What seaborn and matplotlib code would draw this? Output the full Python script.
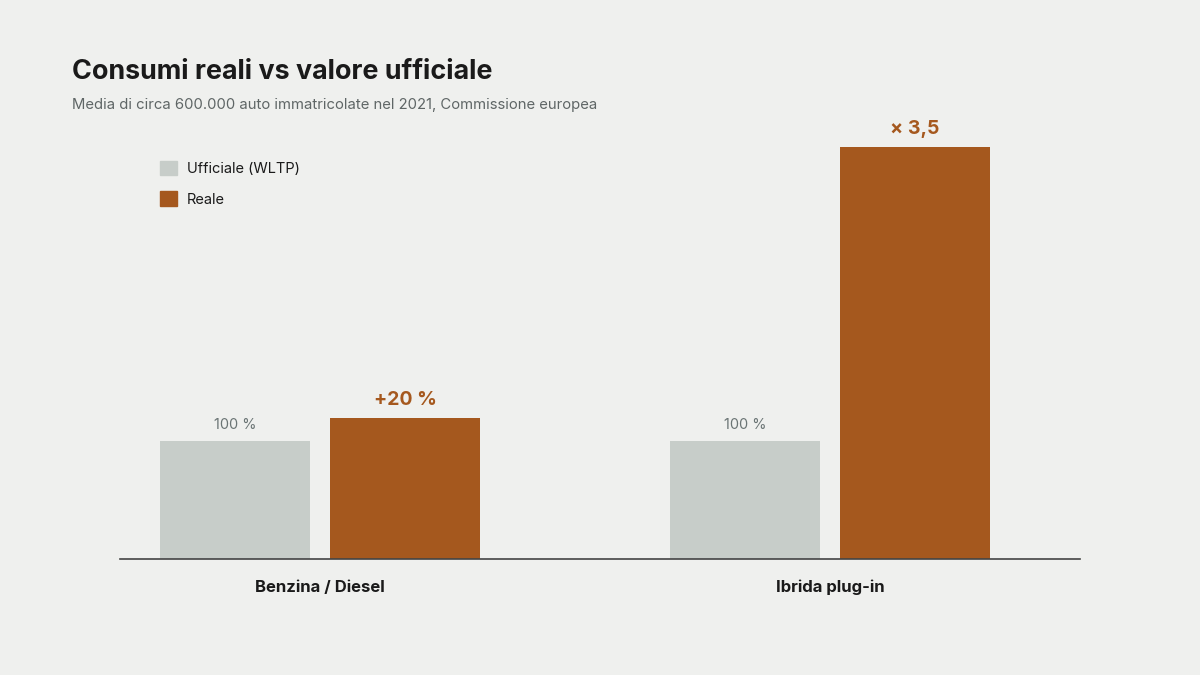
import seaborn as sns
import matplotlib.pyplot as plt
import pandas as pd
from matplotlib.patches import Patch

# Data
categories = ["Benzina / Diesel", "Ibrida plug-in"]
series = ["Ufficiale (WLTP)", "Reale"]
ufficiale = [100, 100]
reale = [120, 350]
labels_ufficiale = ["100 %", "100 %"]
labels_reale = ["+20 %", "× 3,5"]

bg = "#EFF0EE"
grey = "#C7CDC9"
orange = "#A5581E"

df = pd.DataFrame({
    "categoria": categories * 2,
    "serie": [series[0]] * 2 + [series[1]] * 2,
    "valore": ufficiale + reale,
})

sns.set_theme(style="white")
plt.rcParams["font.family"] = ["Inter", "DejaVu Sans"]

fig = plt.figure(figsize=(12, 6.75), dpi=100, facecolor=bg)
ax = fig.add_axes([0.1, (675 - 559) / 675, 0.8, (559 - 147) / 675])
ax.set_facecolor(bg)

sns.barplot(data=df, x="categoria", y="valore", hue="serie",
            palette=[grey, orange], width=0.667, gap=0.118,
            legend=False, ax=ax, saturation=1, linewidth=0)

ax.set_xlim(-0.392, 1.490)
ax.set_ylim(0, 350)

# Value labels
for i, cont in enumerate(ax.containers):
    for j, bar in enumerate(cont):
        x = bar.get_x() + bar.get_width() / 2
        h = bar.get_height()
        if i == 0:
            ax.annotate(labels_ufficiale[j], (x, h), xytext=(0, 6.5),
                        textcoords="offset points", ha="center", va="bottom",
                        fontsize=10.5, color="#6B7575", annotation_clip=False)
        else:
            ax.annotate(labels_reale[j], (x, h), xytext=(0, 6.5),
                        textcoords="offset points", ha="center", va="bottom",
                        fontsize=14, fontweight="bold", color=orange,
                        annotation_clip=False)

for s in ["top", "right", "left"]:
    ax.spines[s].set_visible(False)
ax.spines["bottom"].set_color("#444444")
ax.spines["bottom"].set_linewidth(1.2)
ax.set_yticks([])
ax.set_xlabel("")
ax.set_ylabel("")
ax.tick_params(axis="x", length=0, pad=15)
for t in ax.get_xticklabels():
    t.set_fontsize(12)
    t.set_fontweight("bold")
    t.set_color("#1A1A1A")

# Legend
handles = [Patch(color=grey), Patch(color=orange)]
fig.legend(handles, series, loc="upper left", bbox_to_anchor=(160 / 1200, 1 - 161 / 675),
           frameon=False, handlelength=1.15, handleheight=1.15, handletextpad=0.7,
           labelspacing=1.05, borderpad=0, borderaxespad=0,
           fontsize=10.5, labelcolor="#1A1A1A")

fig.text(72 / 1200, 1 - 79 / 675, "Consumi reali vs valore ufficiale",
         fontsize=19.4, fontweight="bold", color="#1A1A1A", va="baseline")
fig.text(72 / 1200, 1 - 109 / 675,
         "Media di circa 600.000 auto immatricolate nel 2021, Commissione europea",
         fontsize=10.7, color="#5F6666", va="baseline")

fig.savefig("out.png", dpi=100, facecolor=bg)
